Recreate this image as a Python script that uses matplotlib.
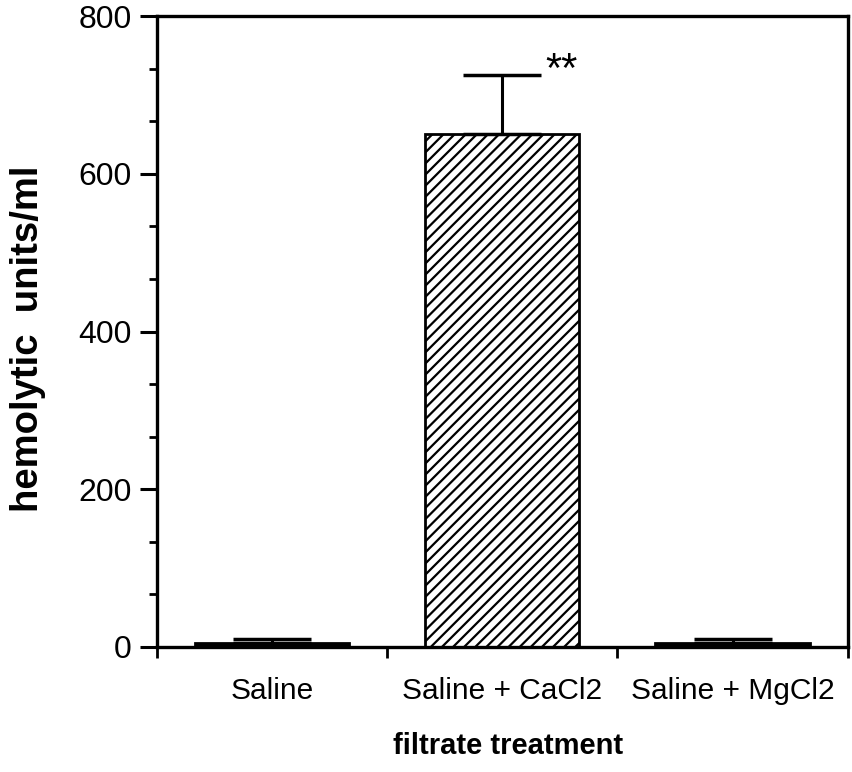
import numpy as np
import matplotlib.pyplot as plt
from matplotlib.ticker import MultipleLocator

# data
categories = ["Saline", "Saline + CaCl2", "Saline + MgCl2"]
means = [5, 650, 5]
errs = [5, 75, 5]
hatches = ["", "///", ""]
fills = ["black", "white", "black"]
signif = ["", "**", ""]

plt.rcParams["font.family"] = ["Liberation Sans", "DejaVu Sans"]
plt.rcParams["hatch.linewidth"] = 1.6

fig = plt.figure(figsize=(8.52, 7.72), dpi=100)
ax = fig.add_axes([0.184, 0.162, 0.811, 0.817])

x = np.arange(len(categories)) + 0.5
bars = ax.bar(x, means, width=0.67, color=fills, edgecolor="black",
              linewidth=2, zorder=2)
for b, h in zip(bars, hatches):
    b.set_hatch(h)

yerr = np.array([np.zeros(len(errs)), errs])
ax.errorbar(x, means, yerr=yerr, fmt="none", ecolor="black", elinewidth=2.2,
            capsize=28, capthick=2.5, zorder=3)

for xi, m, e, s in zip(x, means, errs, signif):
    if s:
        ax.text(xi + 0.185, m + e - 20, s, fontsize=30,
                ha="left", va="bottom")

ax.set_xlim(0, 3)
ax.set_ylim(0, 800)

ax.set_xticks([0, 1, 2, 3])
ax.set_xticklabels([])
ax.set_xticks(x, minor=True)
ax.set_xticklabels(categories, minor=True, fontsize=21.5)
ax.tick_params(axis="x", which="major", direction="out", length=8, width=2)
ax.tick_params(axis="x", which="minor", length=0, pad=22)

ax.set_yticks([0, 200, 400, 600, 800])
ax.yaxis.set_minor_locator(MultipleLocator(200 / 3))
ax.tick_params(axis="y", which="major", direction="out", length=12, width=2.2,
               labelsize=23, pad=6)
ax.tick_params(axis="y", which="minor", direction="out", length=6, width=2)

for sp in ax.spines.values():
    sp.set_linewidth(2.4)

ax.set_xlabel("filtrate treatment", fontsize=21, fontweight="bold")
ax.xaxis.set_label_coords(0.508, -0.135)
ax.set_ylabel("hemolytic  units/ml", fontsize=27.5, fontweight="bold")
ax.yaxis.set_label_coords(-0.16, 0.488)

fig.savefig("out.png", dpi=100)
